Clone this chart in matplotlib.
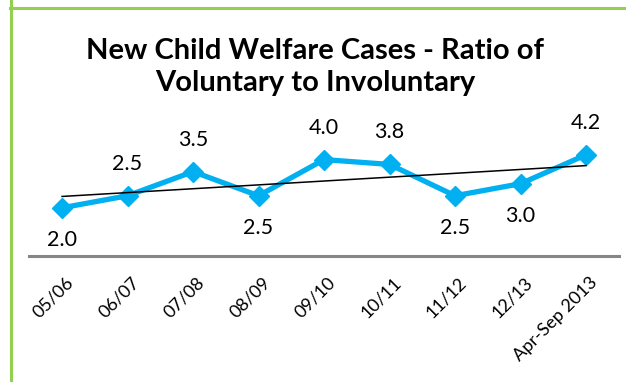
import numpy as np
import matplotlib.pyplot as plt
from matplotlib.lines import Line2D
from matplotlib.transforms import ScaledTranslation

# Ratio of voluntary to involuntary new child welfare cases by period
periods = ['05/06', '06/07', '07/08', '08/09', '09/10', '10/11', '11/12', '12/13', 'Apr-Sep 2013']
ratios = [2.0, 2.5, 3.5, 2.5, 4.0, 3.8, 2.5, 3.0, 4.2]
label_above = [False, True, True, False, True, True, False, False, True]

W, H = 626, 382
fig = plt.figure(figsize=(W / 100, H / 100), dpi=100)
fig.patch.set_facecolor('white')

# green frame lines (left edge and top edge)
green = '#92D050'
fig.add_artist(Line2D([11 / W, 11 / W], [0, 1], color=green, lw=2.2, transform=fig.transFigure))
fig.add_artist(Line2D([10 / W, 1], [1 - 8 / H, 1 - 8 / H], color=green, lw=2.2, transform=fig.transFigure))

# axes placed so that y=0 sits on the grey baseline
ax_left, ax_right = 29.3, 618.8
ax_bottom, ymax, px_per_unit = 256, 5, 24.1
ax = fig.add_axes([ax_left / W, 1 - ax_bottom / H, (ax_right - ax_left) / W, ymax * px_per_unit / H])
ax.set_xlim(-0.5, len(periods) - 0.5)
ax.set_ylim(0, ymax)
ax.patch.set_alpha(0)

x = np.arange(len(periods))
ax.plot(x, ratios, color='#00B0F0', lw=3.8, marker='D', markersize=10.5, mew=1, zorder=3)

# linear trend line
slope, icpt = np.polyfit(x, ratios, 1)
ax.plot(x, slope * x + icpt, color='black', lw=1.1, zorder=4)

for xi, v, up in zip(x, ratios, label_above):
    ax.annotate(f'{v:.1f}', (xi, v), xytext=(0, 23 if up else -23), textcoords='offset points',
                ha='center', va='center', fontsize=15.5, family='Lato', clip_on=False)

for s in ['left', 'right', 'top']:
    ax.spines[s].set_visible(False)
ax.spines['bottom'].set_color('#868686')
ax.spines['bottom'].set_linewidth(2.2)
ax.set_yticks([])
ax.set_xticks(x)
ax.set_xticklabels(periods, rotation=45, ha='right', va='top', rotation_mode='anchor',
                   fontsize=13, family='Lato')
ax.tick_params(axis='x', length=0, pad=13)
shift = ScaledTranslation(2.5 / 72, 0, fig.dpi_scale_trans)
for lbl in ax.get_xticklabels():
    lbl.set_transform(lbl.get_transform() + shift)

fig.text(0.5 * (88 + 543) / W, 1 - 67 / H, 'New Child Welfare Cases - Ratio of\nVoluntary to Involuntary',
         ha='center', va='center', fontsize=21, fontweight='bold', family='Lato', linespacing=1.25)

fig.savefig('out.png', dpi=100)
